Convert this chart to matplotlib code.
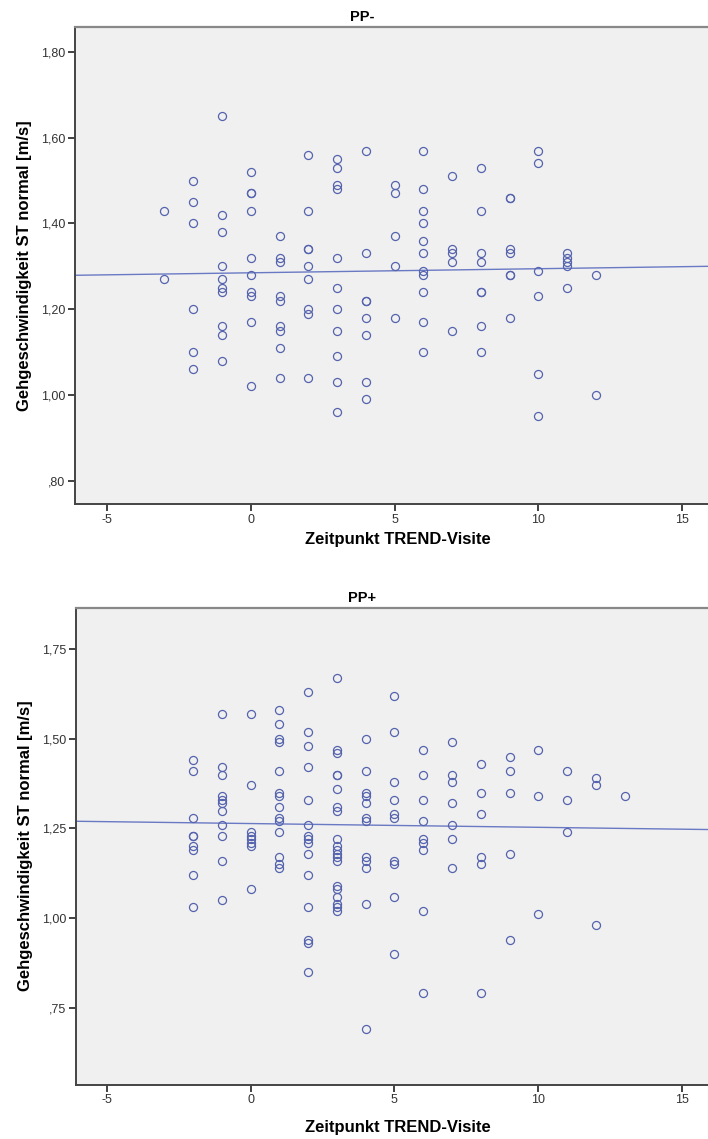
import numpy as np
import matplotlib
matplotlib.use("Agg")
import matplotlib.pyplot as plt
from matplotlib.ticker import FuncFormatter

plt.rcParams["font.family"] = ["Liberation Sans", "DejaVu Sans"]
plt.rcParams["axes.unicode_minus"] = False

# gait speed per TREND visit
pp_minus = {
    -3: [1.43, 1.27],
    -2: [1.50, 1.45, 1.40, 1.20, 1.10, 1.06],
    -1: [1.65, 1.42, 1.38, 1.30, 1.27, 1.25, 1.24, 1.16, 1.14, 1.08],
    0: [1.52, 1.47, 1.47, 1.43, 1.32, 1.28, 1.24, 1.23, 1.17, 1.02],
    1: [1.37, 1.32, 1.31, 1.23, 1.22, 1.16, 1.15, 1.11, 1.04],
    2: [1.56, 1.43, 1.34, 1.34, 1.30, 1.27, 1.20, 1.19, 1.04],
    3: [1.55, 1.53, 1.49, 1.48, 1.32, 1.25, 1.20, 1.15, 1.09, 1.03, 0.96],
    4: [1.57, 1.33, 1.22, 1.22, 1.18, 1.14, 1.03, 0.99],
    5: [1.49, 1.47, 1.37, 1.30, 1.18],
    6: [1.57, 1.48, 1.43, 1.40, 1.36, 1.33, 1.29, 1.28, 1.24, 1.17, 1.10],
    7: [1.51, 1.34, 1.33, 1.31, 1.15],
    8: [1.53, 1.43, 1.33, 1.31, 1.24, 1.24, 1.16, 1.10],
    9: [1.46, 1.46, 1.34, 1.33, 1.28, 1.28, 1.18],
    10: [1.57, 1.54, 1.29, 1.23, 1.05, 0.95],
    11: [1.33, 1.32, 1.31, 1.30, 1.25],
    12: [1.28, 1.00],
}

pp_plus = {
    -2: [1.44, 1.41, 1.28, 1.23, 1.23, 1.20, 1.19, 1.12, 1.03],
    -1: [1.57, 1.42, 1.40, 1.34, 1.33, 1.32, 1.30, 1.26, 1.23, 1.16, 1.05],
    0: [1.57, 1.37, 1.24, 1.23, 1.22, 1.21, 1.20, 1.08],
    1: [1.58, 1.54, 1.50, 1.49, 1.41, 1.35, 1.34, 1.31, 1.28, 1.27, 1.24, 1.17, 1.15, 1.14],
    2: [1.63, 1.52, 1.48, 1.42, 1.33, 1.26, 1.23, 1.22, 1.21, 1.18, 1.12, 1.03, 0.94, 0.93, 0.85],
    3: [1.67, 1.47, 1.46, 1.40, 1.40, 1.36, 1.31, 1.30, 1.22, 1.20, 1.19, 1.18, 1.17, 1.16,
        1.09, 1.08, 1.06, 1.04, 1.03, 1.02],
    4: [1.50, 1.41, 1.35, 1.34, 1.32, 1.28, 1.27, 1.17, 1.16, 1.14, 1.04, 0.69],
    5: [1.62, 1.52, 1.38, 1.33, 1.29, 1.28, 1.16, 1.15, 1.06, 0.90],
    6: [1.47, 1.40, 1.33, 1.27, 1.22, 1.21, 1.19, 1.02, 0.79],
    7: [1.49, 1.40, 1.38, 1.32, 1.26, 1.22, 1.14],
    8: [1.43, 1.35, 1.29, 1.17, 1.15, 0.79],
    9: [1.45, 1.41, 1.35, 1.18, 0.94],
    10: [1.47, 1.34, 1.01],
    11: [1.41, 1.33, 1.24],
    12: [1.39, 1.37, 0.98],
    13: [1.34],
}

# fit line at total (intercept, slope) as drawn by SPSS
pp_minus_fit = (1.285, 0.00095)
pp_plus_fit = (1.2636, -0.00105)

pp_minus_yticks = [0.80, 1.00, 1.20, 1.40, 1.60, 1.80]
pp_plus_yticks = [0.75, 1.00, 1.25, 1.50, 1.75]
x_ticks = [-5, 0, 5, 10, 15]

MARK = "#5563AE"
LINE = "#6A79C4"
FACE = "#F0F0F0"


def spss_fmt(v, pos):
    s = "%.2f" % v
    s = s.replace(".", ",")
    if s.startswith("0"):
        s = s[1:]
    return s


def panel(ax, data, fit, yticks, ylim, xlim, title, xlab_y):
    xs, ys = [], []
    for visit, speeds in data.items():
        for s in speeds:
            xs.append(visit)
            ys.append(s)
    ax.set_facecolor(FACE)
    ax.plot(xs, ys, linestyle="none", marker="o", markersize=5.8,
            markerfacecolor="none", markeredgecolor=MARK, markeredgewidth=0.9, zorder=3)
    xl = np.array(xlim)
    ax.plot(xl, fit[0] + fit[1] * xl, color=LINE, lw=1.0, zorder=2)
    ax.set_xlim(xlim)
    ax.set_ylim(ylim)
    ax.set_xticks(x_ticks)
    ax.set_yticks(yticks)
    ax.yaxis.set_major_formatter(FuncFormatter(spss_fmt))
    ax.tick_params(axis="both", direction="out", length=5, width=1.3, color="#333333",
                   labelsize=9, labelcolor="#333333", pad=2)
    ax.spines["right"].set_visible(False)
    for side in ["left", "bottom"]:
        ax.spines[side].set_color("#444444")
        ax.spines[side].set_linewidth(1.4)
    ax.spines["top"].set_color("#888888")
    ax.spines["top"].set_linewidth(1.6)
    ax.set_title(title, fontsize=10.5, fontweight="bold", x=0.453, pad=4)
    ax.set_ylabel("Gehgeschwindigkeit ST normal [m/s]", fontsize=12, fontweight="bold")
    ax.yaxis.set_label_coords(-0.068, 0.5)
    ax.set_xlabel("Zeitpunkt TREND-Visite", fontsize=12, fontweight="bold")
    ax.xaxis.set_label_coords(0.51, xlab_y)


fig = plt.figure(figsize=(7.08, 11.39), dpi=100)
fig.patch.set_facecolor("white")

ax1 = fig.add_axes([0.106, 0.5575, 0.894, 0.4188])
panel(ax1, pp_minus, pp_minus_fit, pp_minus_yticks, (0.746, 1.858), (-6.11, 15.9), "PP-", -0.058)

ax2 = fig.add_axes([0.1073, 0.0477, 0.8927, 0.4188])
panel(ax2, pp_plus, pp_plus_fit, pp_plus_yticks, (0.535, 1.866), (-6.07, 15.9), "PP+", -0.074)

plt.savefig("out.png", dpi=100)
plt.close(fig)
